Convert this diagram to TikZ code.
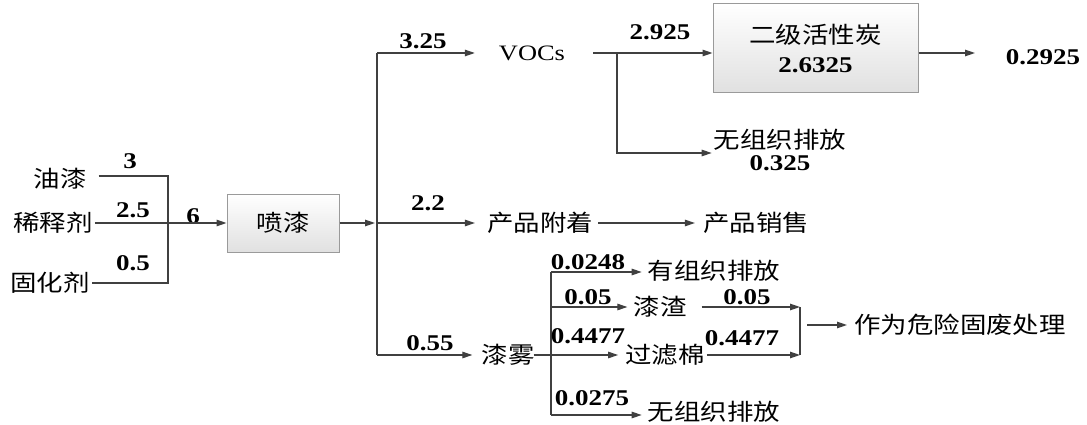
\documentclass[tikz,border=0pt]{standalone}
\usepackage{fontspec}
\setmainfont{Liberation Serif}[FakeStretch=1.2]
\newfontfamily\cjkfont{Noto Sans CJK SC}[FakeStretch=1.15]
\usetikzlibrary{arrows.meta}
\newcommand\nmfont{\rmfamily\fontsize{22.5}{22}\selectfont\bfseries}
\newcommand\cnfont{\cjkfont\fontsize{23}{22}\selectfont}
\definecolor{lc}{HTML}{404040}
\definecolor{bd}{HTML}{9A9A9A}
\tikzset{
  cn/.style={font=\cnfont, inner sep=2pt},
  num/.style={font=\nmfont, inner sep=1pt},
  ln/.style={draw=lc, line width=1.2pt},
  arr/.style={ln, -{Triangle[length=10pt,width=6.5pt]}},
  pbox/.style={draw=bd, line width=1pt, top color=white, bottom color=black!12, inner sep=2pt},
}
\begin{document}
\begin{tikzpicture}[x=1pt,y=-1pt]
\useasboundingbox (0,0) rectangle (1087,425);

% inputs
\node[cn] (yq)  at (60,179) {油漆};
\node[cn] (xsj) at (53,223) {稀释剂};
\node[cn] (ghj) at (50,283) {固化剂};
\node[num] (n3)  at (130,161) {3};
\node[num] (n25) at (133,210) {2.5};
\node[num] (n05) at (133,263) {0.5};
\node[num] (n6)  at (193,216) {6};

\node[pbox, cn, minimum width=112pt, minimum height=58pt] (pq) at (283,223) {喷漆};

\coordinate (c1) at (168,283);
\draw[ln, shorten <=10pt] ([yshift=3pt]yq.east) -| (c1) -- (ghj.east);
\draw[arr] (xsj.east) -- (pq.west);

% main splitter
\coordinate (s0) at (377,223);
\coordinate (s1) at (377,53);
\coordinate (s3) at (377,355);
\draw[arr, shorten >=2pt] (pq.east) -- (s0);
\draw[ln] (s1) -- (s3);

% VOCs branch
\node[font=\rmfamily\fontsize{22}{22}\selectfont, inner sep=2pt] (vocs) at (532,53) {VOCs};
\node[num] (n325) at (423,41) {3.25};
\draw[arr, shorten >=22pt] (s1) -- (vocs.west);

\node[pbox, font=\cnfont, align=center, minimum width=205pt, minimum height=89pt] (hxt) at (815.5,48.5) {二级活性炭\\[7pt]{\nmfont 2.6325}};
\node[num] (n2925) at (660,32) {2.925};
\draw[arr, shorten <=26pt] (vocs.east) -- (vocs.east -| hxt.west);

\coordinate (e1) at (975,53);
\draw[arr] (hxt.east |- e1) -- (e1);
\node[num] (n02925) at (1043,57) {0.2925};

\coordinate (v1) at (617,53);
\node[cn, align=center] (wz1) at (780,150) {无组织排放\\{\nmfont 0.325}};
\draw[arr] (v1) |- ([yshift=-3pt]wz1.west);

% product branch
\node[num] (n22) at (428,203) {2.2};
\node[cn] (cpfz) at (540,223) {产品附着};
\node[cn] (cpxs) at (756,223) {产品销售};
\draw[arr, shorten >=10pt] (s0) -- (cpfz.west);
\draw[arr, shorten <=3pt, shorten >=6pt] (cpfz.east) -- (cpxs.west);

% paint mist branch
\node[num] (n055) at (430,343) {0.55};
\node[cn] (qw) at (508,355) {漆雾};
\draw[arr, shorten >=7pt] (s3) -- (qw.west);

\coordinate (b1) at (551,272);
\coordinate (b2) at (551,307);
\coordinate (b4) at (551,415);
\draw[ln] (b1) -- (b4);

\node[cn] (yz)  at (714,271) {有组织排放};
\node[cn] (qz)  at (660,307) {漆渣};
\node[cn] (gl)  at (665,355) {过滤棉};
\node[cn] (wz2) at (714,412) {无组织排放};

\node[num] (n0248)  at (588,262) {0.0248};
\node[num] (n005a)  at (588,297) {0.05};
\node[num] (n4477a) at (588,336) {0.4477};
\node[num] (n0275)  at (592,398) {0.0275};

\draw[arr, shorten >=4pt] (b1) -- (b1 -| yz.west);
\draw[arr, shorten >=4pt] (b2) -- (qz.west);
\draw[arr, shorten <=-3pt, shorten >=5pt] (qw.east) -- (gl.west);
\draw[arr, shorten >=4pt] (b4) -- (b4 -| wz2.west);

% hazardous waste
\coordinate (k1) at (800,307);
\coordinate (k2) at (800,355);
\coordinate (k0) at (800,325);
\node[num] (n005b)  at (747,297) {0.05};
\node[num] (n4477b) at (742,338) {0.4477};
\draw[arr, shorten <=13pt] (qz.east) -- (k1);
\draw[arr] (gl.east) -- (k2);
\draw[ln] (k1) -- (k2);
\node[cn] (wx) at (960,325) {作为危险固废处理};
\draw[arr, shorten <=7pt, shorten >=5pt] (k0) -- (wx.west);
\end{tikzpicture}
\end{document}
